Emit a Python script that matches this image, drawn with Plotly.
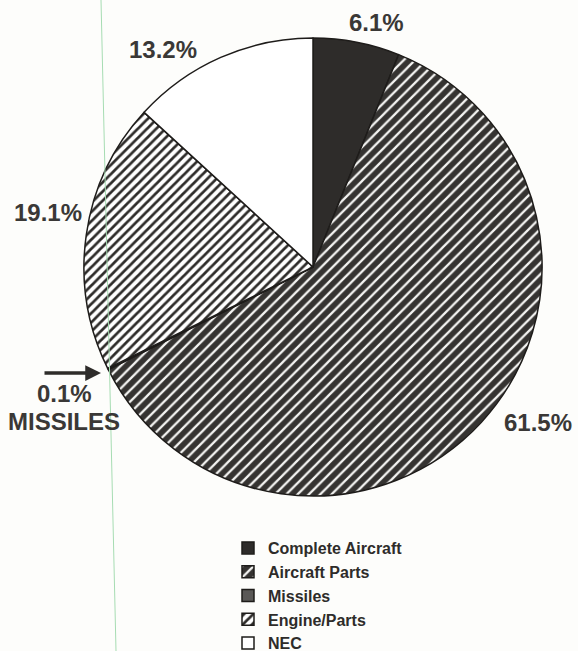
import plotly.graph_objects as go

# Share of exports by category (percent)
categories = ["Complete Aircraft", "Aircraft Parts", "Missiles", "Engine/Parts", "NEC"]
shares = [6.1, 61.5, 0.1, 19.1, 13.2]

W, H = 578, 651
INK = "#2e2c2a"


def px(x):
    return x / W


def py(y):
    return 1 - y / H


fill_colors = [INK, "#353331", "#5a5856", "#ffffff", "#ffffff"]
pattern_shapes = ["", "/", "", "/", ""]
pattern_fg = [INK, "#f4f4f2", "#5a5856", "#2e2c2a", "#ffffff"]
pattern_bg = [INK, "#353331", "#5a5856", "#ffffff", "#ffffff"]
pattern_size = [8, 8, 8, 6.5, 8]
pattern_solid = [0.3, 0.28, 0.3, 0.42, 0.3]

# pie centre (313, 267), radius 229 in page pixels
cx, cy, r = 313, 267, 229

fig = go.Figure(
    go.Pie(
        labels=[f"<b>{c}</b>" for c in categories],
        values=shares,
        sort=False,
        direction="clockwise",
        rotation=0,
        textinfo="none",
        hoverinfo="label+percent",
        marker=dict(
            colors=fill_colors,
            line=dict(color="#1e1c1a", width=1.5),
            pattern=dict(
                shape=pattern_shapes,
                fgcolor=pattern_fg,
                bgcolor=pattern_bg,
                size=pattern_size,
                solidity=pattern_solid,
                fillmode="replace",
            ),
        ),
        domain=dict(x=[px(cx - r), px(cx + r)], y=[py(cy + r), py(cy - r)]),
    )
)

label_font = dict(family="Liberation Sans, Arial, sans-serif", size=24, color="#3a3836")
label_pos = {
    "Complete Aircraft": (376, 22),
    "Aircraft Parts": (538, 422),
    "Missiles": (64, 393),
    "Engine/Parts": (48, 212),
    "NEC": (163, 49),
}

annotations = []
for name, val in zip(categories, shares):
    x, y = label_pos[name]
    annotations.append(
        dict(
            x=px(x), y=py(y), xref="paper", yref="paper",
            text=f"<b>{val:.1f}%</b>", showarrow=False,
            xanchor="center", yanchor="middle", font=label_font,
        )
    )

# name tag under the small slice's percentage
annotations.append(
    dict(
        x=px(64), y=py(421), xref="paper", yref="paper",
        text="<b>MISSILES</b>", showarrow=False,
        xanchor="center", yanchor="middle", font=label_font,
    )
)

# pointer to the thin missiles wedge
annotations.append(
    dict(
        x=px(101), y=py(373), xref="paper", yref="paper",
        ax=-58, ay=0, text="", showarrow=True,
        arrowhead=2, arrowsize=0.9, arrowwidth=3.5, arrowcolor="#2e2c2a",
    )
)

fig.update_layout(
    width=W,
    height=H,
    margin=dict(l=0, r=0, t=0, b=0, autoexpand=False),
    paper_bgcolor="#fdfdfb",
    plot_bgcolor="#fdfdfb",
    annotations=annotations,
    showlegend=True,
    legend=dict(
        x=px(228), y=py(531), xanchor="left", yanchor="top",
        bgcolor="rgba(0,0,0,0)",
        font=dict(family="Liberation Sans, Arial, sans-serif", size=16, color="#2e2c2a"),
        traceorder="normal",
        itemclick=False,
    ),
    shapes=[
        dict(
            type="line", xref="paper", yref="paper",
            x0=px(101), y0=1, x1=px(116), y1=0,
            line=dict(color="#a6dcb2", width=1),
        )
    ],
)

fig.write_html("out.html")
